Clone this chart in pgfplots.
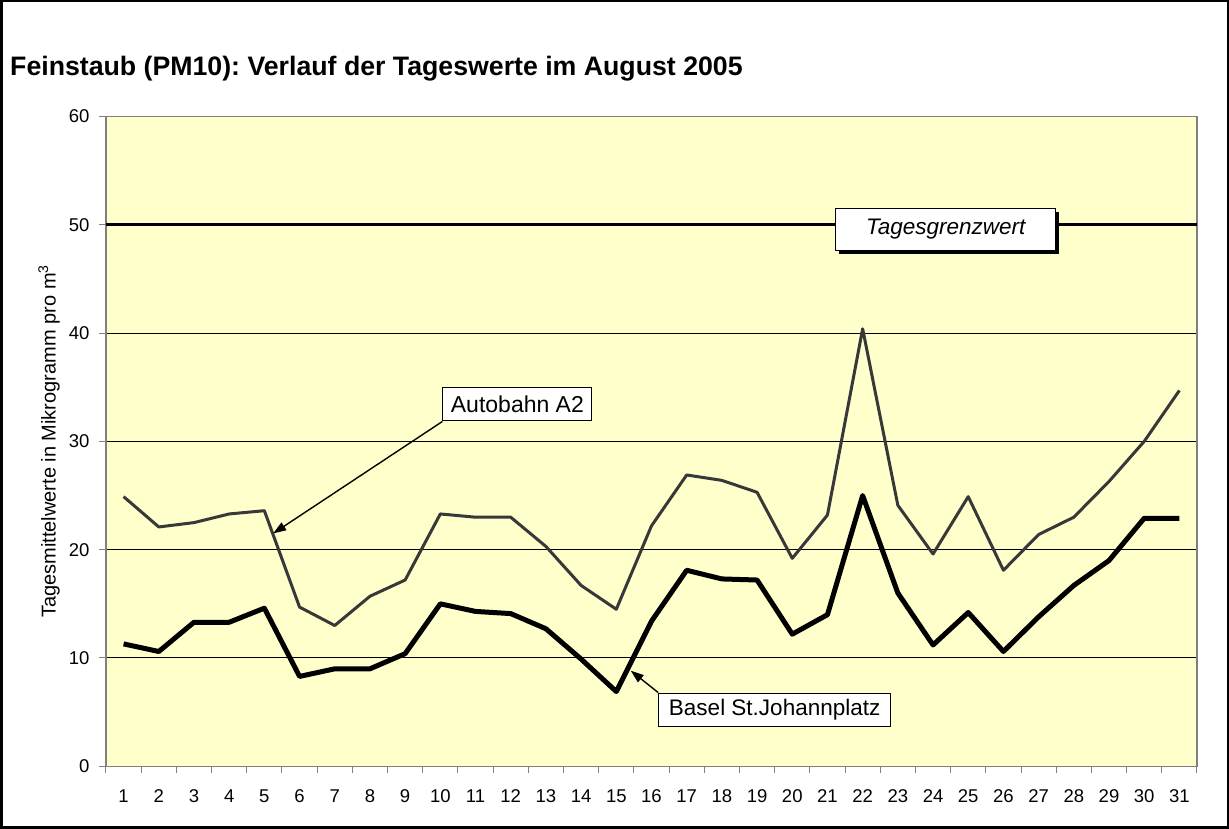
\documentclass[border=0pt]{standalone}
\usepackage{pgfplots}
\pgfplotsset{compat=1.18}
\usepackage{fontspec}
\setmainfont{Liberation Sans}
\usetikzlibrary{arrows.meta,shadows}
\definecolor{bgyellow}{HTML}{FFFFCC}
\definecolor{framegray}{HTML}{808080}
\definecolor{autogray}{HTML}{383838}
\frenchspacing

\pgfplotstableread{
day auto basel
1  24.9 11.3
2  22.1 10.6
3  22.5 13.3
4  23.3 13.3
5  23.6 14.6
6  14.7 8.3
7  13.0 9.0
8  15.7 9.0
9  17.2 10.4
10 23.3 15.0
11 23.0 14.3
12 23.0 14.1
13 20.3 12.7
14 16.7 9.9
15 14.5 6.9
16 22.2 13.4
17 26.9 18.1
18 26.4 17.3
19 25.3 17.2
20 19.2 12.2
21 23.2 14.0
22 40.4 25.0
23 24.1 16.0
24 19.6 11.2
25 24.9 14.2
26 18.1 10.6
27 21.4 13.8
28 23.0 16.7
29 26.3 19.0
30 30.0 22.9
31 34.7 22.9
}\datatable

\begin{document}
\frenchspacing
\begin{tikzpicture}
\useasboundingbox (0,0) rectangle (1229pt,829pt);
\draw[line width=2.5pt] (1.25pt,1.25pt) rectangle (1227.75pt,827.75pt);
\node[anchor=base west, font=\fontsize{26.7}{32}\selectfont\bfseries, inner sep=0pt] at (10pt,753pt) {Feinstaub (PM10): Verlauf der Tageswerte im August 2005};
\begin{axis}[
  at={(106pt,62.7pt)}, anchor=south west,
  scale only axis, width=1091pt, height=649.8pt,
  xmin=0.5, xmax=31.5, ymin=0, ymax=60,
  axis background/.style={fill=bgyellow},
  axis line style={framegray, line width=1.2pt},
  xtick={1,...,31},
  minor xtick={0.5,1.5,...,31.5},
  ytick={0,10,...,60},
  tick align=outside,
  xtick pos=bottom, ytick pos=left,
  major tick length=7pt, minor tick length=7pt,
  every tick/.style={framegray, line width=1pt},
  major x tick style={draw=none},
  ymajorgrids,
  major grid style={black, line width=1pt},
  tick label style={font=\fontsize{18.5}{22}\selectfont},
  /pgf/number format/assume math mode=true,
  xticklabel style={yshift=-13pt},
  yticklabel style={xshift=-6pt},
  ylabel={Tagesmittelwerte in Mikrogramm pro m\textsuperscript{3}},
  ylabel style={at={(axis description cs:-0.0522,0.5)}, anchor=center, font=\fontsize{20}{24}\selectfont},
  clip=true,
]
\addplot[black, line width=3pt] coordinates {(0.5,50) (31.5,50)};
\addplot[autogray, line width=3pt, line join=round] table[x=day, y=auto] {\datatable};
\addplot[black, line width=5pt, line join=round] table[x=day, y=basel] {\datatable};

\node[draw=black, line width=1pt, fill=white, minimum width=149pt, minimum height=33pt, inner sep=0pt,
  font=\fontsize{23}{27}\selectfont] (auto) at (axis cs:12.19,33.41) {Autobahn A2};
\draw[black, line width=1.4pt, -{Triangle[length=13pt,width=9pt]}] (auto.south west) -- (axis cs:5.25,21.5);

\node[draw=black, line width=1pt, fill=white, minimum width=232pt, minimum height=33pt, inner sep=0pt,
  font=\fontsize{22.5}{26}\selectfont] (basel) at (axis cs:19.5,5.24) {Basel St.Johannplatz};
\draw[black, line width=1.4pt, -{Triangle[length=13pt,width=9pt]}] (basel.north west) -- (axis cs:15.41,8.83);

\node[draw=black, line width=1pt, fill=white, minimum width=220pt, minimum height=42pt, inner sep=0pt,
  drop shadow={shadow xshift=3.5pt, shadow yshift=-3.5pt, fill=black, opacity=1},
  font=\fontsize{22.5}{26}\selectfont\itshape] at (axis cs:24.36,49.6) {Tagesgrenzwert};
\end{axis}
\end{tikzpicture}
\end{document}
